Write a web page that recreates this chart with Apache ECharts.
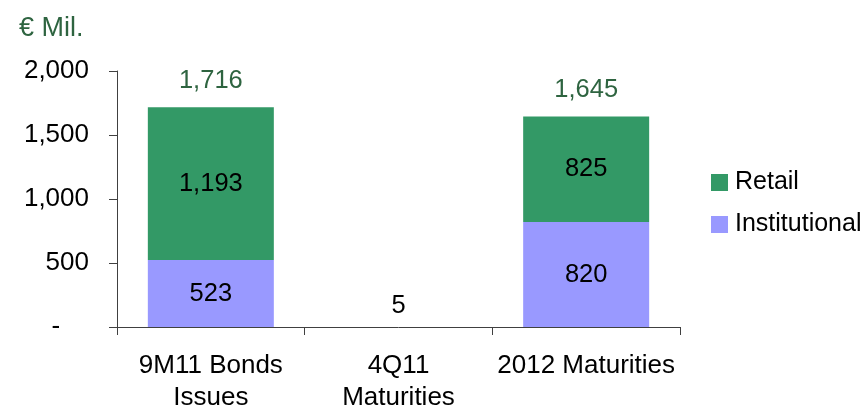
<!DOCTYPE html>
<html>
<head>
<meta charset="utf-8">
<script src="https://cdn.jsdelivr.net/npm/echarts@6/dist/echarts.min.js"></script>
<style>html,body{margin:0;padding:0;background:#fff}#c{width:868px;height:408px}</style>
</head>
<body>
<div id="c"></div>
<script>
var categories = ['9M11 Bonds\nIssues', '4Q11\nMaturities', '2012 Maturities'];
var institutional = [523, 5, 820];
var retail = [1193, 0, 825];
var totals = [1716, 5, 1645];
var yTicks = [0, 500, 1000, 1500, 2000];

var FONT = '"Liberation Sans", Arial, sans-serif';
var GREEN_TXT = '#2E6440';
function fmt(v){ return v === 0 ? '-    ' : v.toLocaleString('en-US'); }
function inLabel(p){ return p.value >= 100 ? p.value.toLocaleString('en-US') : ''; }

// tiny segments are not visible at this scale; their value is printed just above the axis
var instData = institutional.map(function(v){
  return v < 100 ? { value: v, itemStyle: { color: 'rgba(0,0,0,0)' },
    label: { show: true, position: 'top', distance: 7, formatter: String(v) } } : v;
});

var chart = echarts.init(document.getElementById('c'));
chart.setOption({
  animation: false,
  textStyle: { fontFamily: FONT },
  title: {
    text: '€ Mil.', left: 14, top: 10,
    textStyle: { fontFamily: FONT, fontSize: 27, fontWeight: 'normal', color: GREEN_TXT }
  },
  legend: {
    orient: 'vertical', left: 706, top: 165,
    itemWidth: 17, itemHeight: 17, itemGap: 17,
    icon: 'rect',
    data: ['Retail', 'Institutional'],
    textStyle: { fontFamily: FONT, fontSize: 25, lineHeight: 20, color: '#000', padding: [0,0,0,2] }
  },
  grid: { left: 117, right: 188, top: 71, bottom: 81, containLabel: false, outerBoundsMode: 'none' },
  xAxis: {
    type: 'category', data: categories,
    axisLine: { lineStyle: { color: '#404040', width: 1 } },
    axisTick: { show: true, length: 8, lineStyle: { color: '#404040' } },
    axisLabel: { fontFamily: FONT, fontSize: 26, color: '#000', margin: 23, lineHeight: 32, interval: 0 }
  },
  yAxis: {
    type: 'value', min: yTicks[0], max: yTicks[yTicks.length-1], interval: 500,
    splitLine: { show: false },
    axisLine: { show: true, lineStyle: { color: '#404040', width: 1 } },
    axisTick: { show: true, length: 8, lineStyle: { color: '#404040' } },
    axisLabel: { fontFamily: FONT, fontSize: 26, color: '#000', margin: 28, formatter: fmt }
  },
  series: [
    {
      name: 'Institutional', type: 'bar', stack: 's', barWidth: 126,
      data: instData,
      itemStyle: { color: '#9999FF' },
      label: { show: true, position: 'inside', formatter: inLabel, fontFamily: FONT, fontSize: 25.5, color: '#000' }
    },
    {
      name: 'Retail', type: 'bar', stack: 's', barWidth: 126,
      data: retail,
      itemStyle: { color: '#339966' },
      label: { show: true, position: 'inside', formatter: inLabel, fontFamily: FONT, fontSize: 25.5, color: '#000' }
    },
    {
      name: 'Total', type: 'bar', barWidth: 126, barGap: '-100%', z: 0,
      data: totals,
      itemStyle: { color: 'rgba(0,0,0,0)' },
      label: { show: true, position: 'top', distance: 13, fontFamily: FONT, fontSize: 25.5,
        color: GREEN_TXT, formatter: function(p){ return p.value >= 100 ? p.value.toLocaleString('en-US') : ''; } }
    }
  ]
});
</script>
</body>
</html>
